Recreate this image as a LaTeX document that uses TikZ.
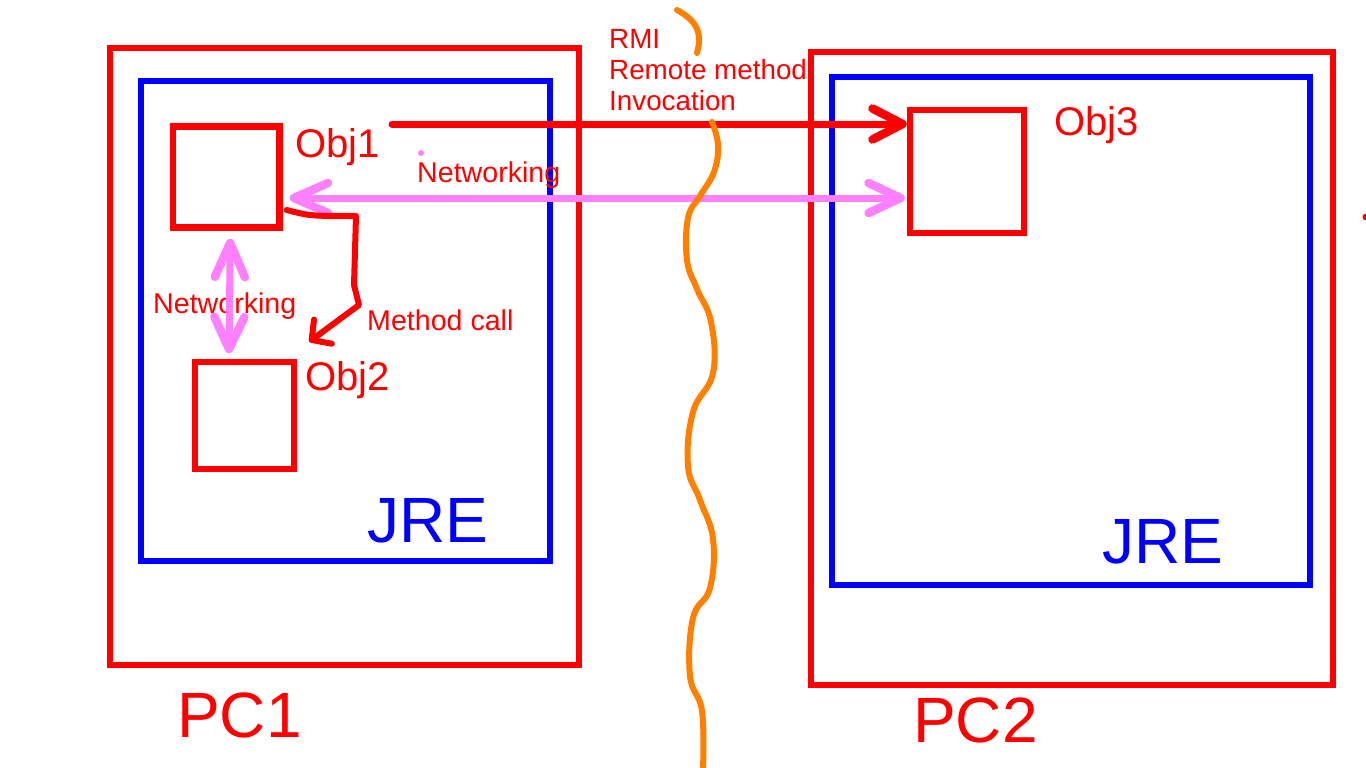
\documentclass[tikz,border=0pt]{standalone}
\usepackage{fontspec}
\setmainfont{Liberation Sans}
\usetikzlibrary{arrows.meta,calc}
\definecolor{mypink}{RGB}{255,128,255}
\definecolor{myorange}{RGB}{255,128,0}
\tikzset{
  pcbox/.style={draw=red,line width=6.5pt,minimum width=#1,inner sep=0pt},
  objbox/.style={draw=red,line width=6.5pt,inner sep=0pt},
  jrebox/.style={draw=blue,line width=6.5pt,inner sep=0pt},
  smalltxt/.style={text=red,font=\fontsize{28.6}{31}\selectfont,inner sep=0pt,anchor=base west},
  objtxt/.style={text=red,font=\fontsize{40}{44}\selectfont,inner sep=0pt,anchor=base west},
  bigtxt/.style={font=\fontsize{64}{70}\selectfont,inner sep=0pt,anchor=base west},
  bigarrow/.style={line width=7pt,line cap=round,-{Straight Barb[length=30pt,width=31pt,round,line width=8.5pt]}},
  pinkarrow/.style={draw=mypink,line width=7pt,{Straight Barb[length=34pt,width=30pt,round,line width=8.5pt]}-{Straight Barb[length=32pt,width=30pt,round,line width=8.5pt]}},
  callarrow/.style={draw=red,line width=6pt,line cap=round,line join=round,-{Straight Barb[length=14pt,width=30pt,round]}},
  wiggle/.style={draw=myorange,line width=6pt,line cap=round,line join=round}
}
\begin{document}
\begin{tikzpicture}[x=1pt,y=-1pt]
\useasboundingbox (0,0) rectangle (1366,768);
% PC boxes
\node[pcbox=469pt,minimum height=617pt] (pc1) at (344.5,356.5) {};
\node[pcbox=522pt,minimum height=633pt] (pc2) at (1072,368.5) {};
% JRE boxes
\node[jrebox,minimum width=409pt,minimum height=480pt] (jre1) at (345.5,321) {};
\node[jrebox,minimum width=478pt,minimum height=508pt] (jre2) at (1071,331) {};
% object boxes
\node[objbox,minimum width=106.5pt,minimum height=101pt] (obj1) at (226.25,177) {};
\node[objbox,minimum width=99pt,minimum height=107pt] (obj2) at (244.5,415.5) {};
\node[objbox,minimum width=114pt,minimum height=123pt] (obj3) at (967,171.5) {};
% labels
\node[objtxt] (l1) at (295,157) {Obj1};
\node[objtxt] (l2) at (305,390) {Obj2};
\node[objtxt] (l3) at (1054,135) {Obj3};
\node[bigtxt,text=blue] (j1) at (367,542) {JRE};
\node[bigtxt,text=blue] (j2) at (1102,563) {JRE};
\node[bigtxt,text=red] (p1) at (177,737) {PC1};
\node[bigtxt,text=red] (p2) at (913,742) {PC2};
\node[smalltxt,font=\fontsize{27.8}{31}\selectfont,anchor=north west,align=left] (rmi) at (609,29) {RMI\\Remote method\\Invocation};
\node[smalltxt] (net1) at (417,182) {Networking};
\node[smalltxt] (net2) at (153,313) {Networking};
\node[smalltxt] (mc) at (367,330) {Method call};
% RMI arrow
\coordinate (rmistart) at (392,124);
\draw[red,bigarrow] (rmistart) -- (rmistart -| obj3.west);
% networking arrows
\coordinate (hy) at (0,198);
\draw[pinkarrow] ([shift={(7,0)}]obj1.east |- hy) -- ([shift={(-2,0)}]obj3.west |- hy);
\draw[pinkarrow] ([shift={(4,8)}]obj1.south) -- ([shift={(-15.5,-5.5)}]obj2.north);
\fill[mypink] (421,153) circle (3);
% method call
\draw[callarrow] ([shift={(4,33)}]obj1.east) .. controls (310,216) .. (356,216) -- (354,285) -- (359,305) -- ([shift={(12,-17)}]obj2.north east);
% network boundary
\draw[wiggle] (677,10) .. controls (699,22) and (702,35) .. (697,53);
\draw[wiggle] plot[smooth,tension=0.7] coordinates {(712,122) (718,145) (714,172) (700,196) (688,218) (687,260) (697,289) (711,322) (713,373) (693,412) (688,466) (700,500) (713,539) (710,588) (693,618) (690,676) (702,711) (703,770)};
% stray mark at right edge
\fill[red] (1366,217) circle (3.5);
\end{tikzpicture}
\end{document}
